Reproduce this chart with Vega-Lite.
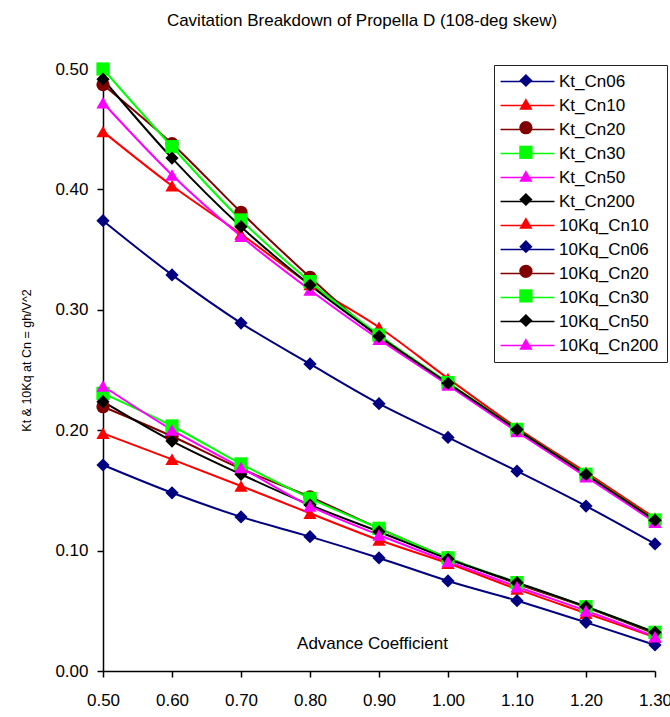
{
  "$schema": "https://vega.github.io/schema/vega-lite/v6.json",
  "autosize": "none",
  "padding": {"left": 103, "top": 69, "right": 15, "bottom": 46},
  "width": 552,
  "height": 602,
  "background": "white",
  "title": {
    "text": "Cavitation Breakdown of Propella D (108-deg skew)",
    "font": "Liberation Sans",
    "fontSize": 17,
    "fontWeight": "normal",
    "color": "black",
    "anchor": "middle",
    "offset": 30,
    "dx": -17
  },
  "data": {
    "values": [
      {"J": 0.5, "series": "Kt_Cn06", "v": 0.374},
      {"J": 0.6, "series": "Kt_Cn06", "v": 0.329},
      {"J": 0.7, "series": "Kt_Cn06", "v": 0.289},
      {"J": 0.8, "series": "Kt_Cn06", "v": 0.255},
      {"J": 0.9, "series": "Kt_Cn06", "v": 0.222},
      {"J": 1.0, "series": "Kt_Cn06", "v": 0.194},
      {"J": 1.1, "series": "Kt_Cn06", "v": 0.166},
      {"J": 1.2, "series": "Kt_Cn06", "v": 0.137},
      {"J": 1.3, "series": "Kt_Cn06", "v": 0.1055},

      {"J": 0.5, "series": "Kt_Cn10", "v": 0.448},
      {"J": 0.6, "series": "Kt_Cn10", "v": 0.403},
      {"J": 0.7, "series": "Kt_Cn10", "v": 0.363},
      {"J": 0.8, "series": "Kt_Cn10", "v": 0.321},
      {"J": 0.9, "series": "Kt_Cn10", "v": 0.2855},
      {"J": 1.0, "series": "Kt_Cn10", "v": 0.243},
      {"J": 1.1, "series": "Kt_Cn10", "v": 0.202},
      {"J": 1.2, "series": "Kt_Cn10", "v": 0.165},
      {"J": 1.3, "series": "Kt_Cn10", "v": 0.127},

      {"J": 0.5, "series": "Kt_Cn20", "v": 0.487},
      {"J": 0.6, "series": "Kt_Cn20", "v": 0.438},
      {"J": 0.7, "series": "Kt_Cn20", "v": 0.381},
      {"J": 0.8, "series": "Kt_Cn20", "v": 0.327},
      {"J": 0.9, "series": "Kt_Cn20", "v": 0.277},
      {"J": 1.0, "series": "Kt_Cn20", "v": 0.239},
      {"J": 1.1, "series": "Kt_Cn20", "v": 0.200},
      {"J": 1.2, "series": "Kt_Cn20", "v": 0.163},
      {"J": 1.3, "series": "Kt_Cn20", "v": 0.125},

      {"J": 0.5, "series": "Kt_Cn30", "v": 0.500},
      {"J": 0.6, "series": "Kt_Cn30", "v": 0.4355},
      {"J": 0.7, "series": "Kt_Cn30", "v": 0.3746},
      {"J": 0.8, "series": "Kt_Cn30", "v": 0.3234},
      {"J": 0.9, "series": "Kt_Cn30", "v": 0.279},
      {"J": 1.0, "series": "Kt_Cn30", "v": 0.2395},
      {"J": 1.1, "series": "Kt_Cn30", "v": 0.2007},
      {"J": 1.2, "series": "Kt_Cn30", "v": 0.1634},
      {"J": 1.3, "series": "Kt_Cn30", "v": 0.1254},

      {"J": 0.5, "series": "Kt_Cn50", "v": 0.472},
      {"J": 0.6, "series": "Kt_Cn50", "v": 0.412},
      {"J": 0.7, "series": "Kt_Cn50", "v": 0.361},
      {"J": 0.8, "series": "Kt_Cn50", "v": 0.3165},
      {"J": 0.9, "series": "Kt_Cn50", "v": 0.2755},
      {"J": 1.0, "series": "Kt_Cn50", "v": 0.2375},
      {"J": 1.1, "series": "Kt_Cn50", "v": 0.1988},
      {"J": 1.2, "series": "Kt_Cn50", "v": 0.1614},
      {"J": 1.3, "series": "Kt_Cn50", "v": 0.1235},

      {"J": 0.5, "series": "Kt_Cn200", "v": 0.4915},
      {"J": 0.6, "series": "Kt_Cn200", "v": 0.426},
      {"J": 0.7, "series": "Kt_Cn200", "v": 0.369},
      {"J": 0.8, "series": "Kt_Cn200", "v": 0.3206},
      {"J": 0.9, "series": "Kt_Cn200", "v": 0.278},
      {"J": 1.0, "series": "Kt_Cn200", "v": 0.239},
      {"J": 1.1, "series": "Kt_Cn200", "v": 0.2005},
      {"J": 1.2, "series": "Kt_Cn200", "v": 0.1632},
      {"J": 1.3, "series": "Kt_Cn200", "v": 0.1252},

      {"J": 0.5, "series": "10Kq_Cn10", "v": 0.1974},
      {"J": 0.6, "series": "10Kq_Cn10", "v": 0.1758},
      {"J": 0.7, "series": "10Kq_Cn10", "v": 0.1537},
      {"J": 0.8, "series": "10Kq_Cn10", "v": 0.131},
      {"J": 0.9, "series": "10Kq_Cn10", "v": 0.1088},
      {"J": 1.0, "series": "10Kq_Cn10", "v": 0.0895},
      {"J": 1.1, "series": "10Kq_Cn10", "v": 0.068},
      {"J": 1.2, "series": "10Kq_Cn10", "v": 0.048},
      {"J": 1.3, "series": "10Kq_Cn10", "v": 0.028},

      {"J": 0.5, "series": "10Kq_Cn06", "v": 0.1711},
      {"J": 0.6, "series": "10Kq_Cn06", "v": 0.148},
      {"J": 0.7, "series": "10Kq_Cn06", "v": 0.128},
      {"J": 0.8, "series": "10Kq_Cn06", "v": 0.1116},
      {"J": 0.9, "series": "10Kq_Cn06", "v": 0.0939},
      {"J": 1.0, "series": "10Kq_Cn06", "v": 0.0748},
      {"J": 1.1, "series": "10Kq_Cn06", "v": 0.0584},
      {"J": 1.2, "series": "10Kq_Cn06", "v": 0.0404},
      {"J": 1.3, "series": "10Kq_Cn06", "v": 0.0216},

      {"J": 0.5, "series": "10Kq_Cn20", "v": 0.2195},
      {"J": 0.6, "series": "10Kq_Cn20", "v": 0.195},
      {"J": 0.7, "series": "10Kq_Cn20", "v": 0.168},
      {"J": 0.8, "series": "10Kq_Cn20", "v": 0.1446},
      {"J": 0.9, "series": "10Kq_Cn20", "v": 0.1185},
      {"J": 1.0, "series": "10Kq_Cn20", "v": 0.094},
      {"J": 1.1, "series": "10Kq_Cn20", "v": 0.0725},
      {"J": 1.2, "series": "10Kq_Cn20", "v": 0.053},
      {"J": 1.3, "series": "10Kq_Cn20", "v": 0.031},

      {"J": 0.5, "series": "10Kq_Cn30", "v": 0.2306},
      {"J": 0.6, "series": "10Kq_Cn30", "v": 0.2035},
      {"J": 0.7, "series": "10Kq_Cn30", "v": 0.172},
      {"J": 0.8, "series": "10Kq_Cn30", "v": 0.1434},
      {"J": 0.9, "series": "10Kq_Cn30", "v": 0.1185},
      {"J": 1.0, "series": "10Kq_Cn30", "v": 0.094},
      {"J": 1.1, "series": "10Kq_Cn30", "v": 0.0734},
      {"J": 1.2, "series": "10Kq_Cn30", "v": 0.0534},
      {"J": 1.3, "series": "10Kq_Cn30", "v": 0.0321},

      {"J": 0.5, "series": "10Kq_Cn50", "v": 0.2237},
      {"J": 0.6, "series": "10Kq_Cn50", "v": 0.191},
      {"J": 0.7, "series": "10Kq_Cn50", "v": 0.1634},
      {"J": 0.8, "series": "10Kq_Cn50", "v": 0.1379},
      {"J": 0.9, "series": "10Kq_Cn50", "v": 0.1157},
      {"J": 1.0, "series": "10Kq_Cn50", "v": 0.093},
      {"J": 1.1, "series": "10Kq_Cn50", "v": 0.0734},
      {"J": 1.2, "series": "10Kq_Cn50", "v": 0.0534},
      {"J": 1.3, "series": "10Kq_Cn50", "v": 0.0321},

      {"J": 0.5, "series": "10Kq_Cn200", "v": 0.2367},
      {"J": 0.6, "series": "10Kq_Cn200", "v": 0.2002},
      {"J": 0.7, "series": "10Kq_Cn200", "v": 0.169},
      {"J": 0.8, "series": "10Kq_Cn200", "v": 0.137},
      {"J": 0.9, "series": "10Kq_Cn200", "v": 0.113},
      {"J": 1.0, "series": "10Kq_Cn200", "v": 0.091},
      {"J": 1.1, "series": "10Kq_Cn200", "v": 0.070},
      {"J": 1.2, "series": "10Kq_Cn200", "v": 0.050},
      {"J": 1.3, "series": "10Kq_Cn200", "v": 0.0285}
    ]
  },
  "encoding": {
    "x": {
      "field": "J",
      "type": "quantitative",
      "scale": {"domain": [0.5, 1.3], "nice": false, "zero": false},
      "axis": {
        "values": [0.5, 0.6, 0.7, 0.8, 0.9, 1.0, 1.1, 1.2, 1.3],
        "format": ".2f",
        "labelFlush": false,
        "title": "Advance Coefficient",
        "titleX": 269,
        "titleY": -23,
        "titleAlign": "center",
        "titleBaseline": "alphabetic",
        "titleFontSize": 17,
        "labelPadding": 15
      }
    },
    "y": {
      "field": "v",
      "type": "quantitative",
      "scale": {"domain": [0, 0.5], "nice": false, "zero": false},
      "axis": {
        "values": [0, 0.1, 0.2, 0.3, 0.4, 0.5],
        "format": ".2f",
        "title": "Kt & 10Kq at Cn = gh/V^2",
        "titleX": -73,
        "titleY": 291,
        "titleAngle": 270,
        "titleAlign": "center",
        "titleBaseline": "alphabetic",
        "titleFontSize": 12.5,
        "labelPadding": 9
      }
    },
    "color": {
      "field": "series",
      "type": "nominal",
      "scale": {
        "domain": ["Kt_Cn06", "Kt_Cn10", "Kt_Cn20", "Kt_Cn30", "Kt_Cn50", "Kt_Cn200", "10Kq_Cn10", "10Kq_Cn06", "10Kq_Cn20", "10Kq_Cn30", "10Kq_Cn50", "10Kq_Cn200"],
        "range": ["#000080", "#FF0000", "#800000", "#00FF00", "#FF00FF", "#000000", "#FF0000", "#000080", "#800000", "#00FF00", "#000000", "#FF00FF"]
      }
    }
  },
  "layer": [
    {
      "mark": {"type": "line", "strokeWidth": 2, "interpolate": "monotone"},
      "encoding": {
        "color": {
          "field": "series",
          "type": "nominal",
          "legend": {
            "title": null,
            "orient": "none",
            "legendX": 391,
            "legendY": -4,
            "padding": 8,
            "rowPadding": 6,
            "symbolType": "M-4.4,0H4.4",
            "symbolSize": 150,
            "symbolStrokeWidth": 1.5,
            "symbolOffset": 17,
            "labelOffset": 23,
            "labelFontSize": 17,
            "labelColor": "black",
            "strokeColor": "#222222",
            "fillColor": "white"
          }
        }
      }
    },
    {
      "mark": {"type": "point", "filled": true, "opacity": 1, "size": 175},
      "encoding": {
        "color": {
          "field": "series",
          "type": "nominal",
          "legend": {
            "title": null,
            "orient": "none",
            "legendX": 391,
            "legendY": -4,
            "padding": 8,
            "rowPadding": 3.6,
            "symbolSize": 175,
            "symbolStrokeWidth": 1.5,
            "symbolOffset": 16.4,
            "labelOffset": 23,
            "labelFontSize": 10,
            "labelExpr": "''",
            "labelColor": "transparent",
            "symbolOpacity": 1
          }
        },
        "shape": {
          "field": "series",
          "type": "nominal",
          "scale": {
            "domain": ["Kt_Cn06", "Kt_Cn10", "Kt_Cn20", "Kt_Cn30", "Kt_Cn50", "Kt_Cn200", "10Kq_Cn10", "10Kq_Cn06", "10Kq_Cn20", "10Kq_Cn30", "10Kq_Cn50", "10Kq_Cn200"],
            "range": ["diamond", "triangle-up", "circle", "square", "triangle-up", "diamond", "triangle-up", "diamond", "circle", "square", "diamond", "triangle-up"]
          }
        }
      }
    }
  ],
  "resolve": {"legend": {"color": "independent", "shape": "independent"}},
  "config": {
    "font": "Liberation Sans",
    "view": {"stroke": null},
    "axis": {
      "grid": false,
      "domainColor": "black",
      "domainWidth": 1.5,
      "tickColor": "black",
      "tickWidth": 1.5,
      "tickSize": 6,
      "labelColor": "black",
      "labelFont": "Liberation Sans",
      "labelFontSize": 17,
      "titleColor": "black",
      "titleFont": "Liberation Sans",
      "titleFontWeight": "normal"
    },
    "legend": {"labelFont": "Liberation Sans"}
  }
}
